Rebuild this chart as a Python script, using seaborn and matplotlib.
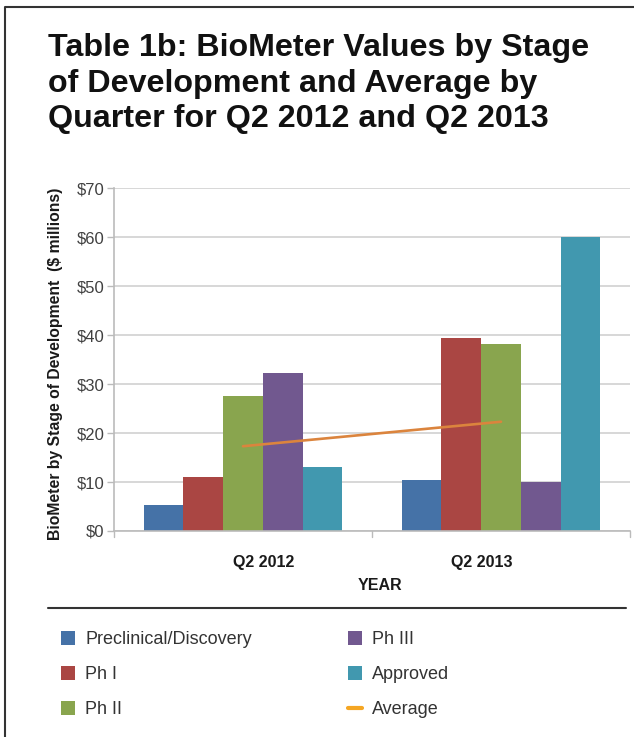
import numpy as np
import pandas as pd
import seaborn as sns
import matplotlib
matplotlib.use("Agg")
import matplotlib.pyplot as plt
from matplotlib.patches import Patch
from matplotlib.lines import Line2D
from matplotlib.transforms import ScaledTranslation

quarters = ["Q2 2012", "Q2 2013"]
stages = ["Preclinical/Discovery", "Ph I", "Ph II", "Ph III", "Approved"]
preclinical = [5.4, 10.5]
ph1 = [11.1, 39.3]
ph2 = [27.5, 38.1]
ph3 = [32.3, 10.0]
approved = [13.0, 60.0]
average = [17.3, 22.3]
y_ticks = [0, 10, 20, 30, 40, 50, 60, 70]
y_tick_labels = ["$0", "$10", "$20", "$30", "$40", "$50", "$60", "$70"]

colors = ["#4572A7", "#AA4643", "#89A54E", "#71588F", "#4198AF"]
avg_color = "#DB843D"

rows = []
for stage, vals in zip(stages, [preclinical, ph1, ph2, ph3, approved]):
    for q, v in zip(quarters, vals):
        rows.append({"Quarter": q, "Stage": stage, "Value": v})
df = pd.DataFrame(rows)

sns.set_theme(style="white")
plt.rcParams["font.family"] = ["Liberation Sans", "DejaVu Sans"]

W, H = 634, 737
fig = plt.figure(figsize=(W / 100, H / 100), dpi=100)
ax = fig.add_axes([114 / W, 1 - 531 / H, (630 - 114) / W, (531 - 188) / H])

sns.barplot(data=df, x="Quarter", y="Value", hue="Stage", order=quarters,
            hue_order=stages, palette=colors, width=0.77, gap=0,
            saturation=1, linewidth=0, ax=ax, legend=False, errorbar=None)
sns.lineplot(x=np.arange(len(quarters)), y=average, color=avg_color, lw=1.9,
             ax=ax, legend=False)

ax.set_ylim(0, 70)
ax.set_xlim(-0.5, len(quarters) - 0.5)
ax.set_yticks(y_ticks)
ax.set_yticklabels(y_tick_labels, fontsize=12, color="#404040")
ax.yaxis.grid(True, color="#D4D4D4", lw=1.3)
ax.set_axisbelow(True)
ax.set_xticks(range(len(quarters)))
ax.set_xticklabels(quarters, fontsize=11.5, fontweight="bold", color="#1a1a1a")
ax.tick_params(axis="x", length=0, pad=17)
ax.tick_params(axis="y", length=5, width=1, color="#BBBBBB", left=True, pad=2)
# label offsets as in the reference layout
for lbl, dx in zip(ax.get_xticklabels(), [21, -19]):
    lbl.set_transform(lbl.get_transform() + ScaledTranslation(dx / 100, 0, fig.dpi_scale_trans))
for b in [-0.5, 0.5, 1.5]:
    ax.plot([b, b], [0, -1.2], color="#BBBBBB", lw=1, clip_on=False)
for s in ["top", "right"]:
    ax.spines[s].set_visible(False)
ax.spines["left"].set_color("#BBBBBB")
ax.spines["bottom"].set_color("#BBBBBB")
ax.spines["left"].set_linewidth(1.2)
ax.spines["bottom"].set_linewidth(1.2)
ax.set_xlabel("YEAR", fontsize=11.5, fontweight="bold", color="#1a1a1a")
ax.xaxis.set_label_coords((380 - 114) / 516, (531 - 578) / 343)
ax.set_ylabel("BioMeter by Stage of Development  ($ millions)", fontsize=11.3,
              fontweight="bold", color="#1a1a1a")
ax.yaxis.set_label_coords((63 - 114) / 516, (531 - 364) / 343)

fig.text(48 / W, 1 - 33 / H,
         "Table 1b: BioMeter Values by Stage\nof Development and Average by\nQuarter for Q2 2012 and Q2 2013",
         fontsize=23.2, fontweight="bold", color="#111111", ha="left", va="top",
         linespacing=1.24)

# frame and separator
fig.add_artist(Line2D([5 / W, 5 / W, 1.0], [0.0, 1 - 7 / H, 1 - 7 / H],
                      transform=fig.transFigure, color="#333333", lw=1.5))
fig.add_artist(Line2D([48 / W, 626 / W], [1 - 608 / H, 1 - 608 / H],
                      transform=fig.transFigure, color="#333333", lw=1.5))

handles = [Patch(facecolor=c, edgecolor="none") for c in colors]
handles.append(Line2D([0], [0], color="#F5A623", lw=3))
labels = stages + ["Average"]
fig.legend(handles, labels, ncol=2, loc="upper left",
           bbox_to_anchor=(61 / W, 1 - 631 / H), frameon=False,
           borderaxespad=0, borderpad=0,
           fontsize=13, labelcolor="#333333", handlelength=0.78,
           handleheight=0.78, handletextpad=0.57, labelspacing=1.0,
           columnspacing=5.3)

fig.savefig("out.png", dpi=100)
